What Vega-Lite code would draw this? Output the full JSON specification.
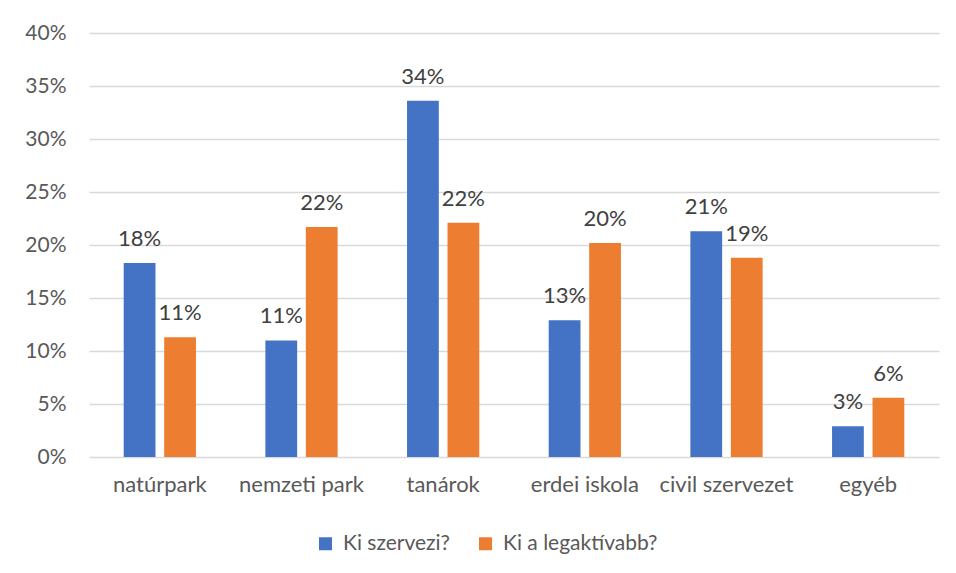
{
  "$schema": "https://vega.github.io/schema/vega-lite/v6.json",
  "width": 850,
  "height": 424,
  "autosize": {"type": "none"},
  "padding": {"left": 89, "top": 33, "right": 17, "bottom": 116},
  "background": "white",
  "config": {
    "font": "Lato",
    "view": {"stroke": null}
  },
  "data": {
    "values": [
      {"cat": "natúrpark", "series": "Ki szervezi?", "value": 0.183},
      {"cat": "natúrpark", "series": "Ki a legaktívabb?", "value": 0.113},
      {"cat": "nemzeti park", "series": "Ki szervezi?", "value": 0.110},
      {"cat": "nemzeti park", "series": "Ki a legaktívabb?", "value": 0.217},
      {"cat": "tanárok", "series": "Ki szervezi?", "value": 0.336},
      {"cat": "tanárok", "series": "Ki a legaktívabb?", "value": 0.221},
      {"cat": "erdei iskola", "series": "Ki szervezi?", "value": 0.129},
      {"cat": "erdei iskola", "series": "Ki a legaktívabb?", "value": 0.202},
      {"cat": "civil szervezet", "series": "Ki szervezi?", "value": 0.213},
      {"cat": "civil szervezet", "series": "Ki a legaktívabb?", "value": 0.188},
      {"cat": "egyéb", "series": "Ki szervezi?", "value": 0.029},
      {"cat": "egyéb", "series": "Ki a legaktívabb?", "value": 0.056}
    ]
  },
  "encoding": {
    "x": {
      "field": "cat",
      "type": "nominal",
      "sort": ["natúrpark", "nemzeti park", "tanárok", "erdei iskola", "civil szervezet", "egyéb"],
      "scale": {"paddingInner": 0.49, "paddingOuter": 0.245},
      "axis": {
        "title": null,
        "labelAngle": 0,
        "domain": false,
        "ticks": false,
        "labelFontSize": 22,
        "labelColor": "#595959",
        "labelPadding": 17
      }
    },
    "xOffset": {
      "field": "series",
      "type": "nominal",
      "sort": ["Ki szervezi?", "Ki a legaktívabb?"],
      "scale": {"paddingInner": 0.215, "paddingOuter": 0}
    },
    "y": {
      "field": "value",
      "type": "quantitative",
      "scale": {"domain": [0, 0.4]},
      "axis": {
        "title": null,
        "values": [0, 0.05, 0.1, 0.15, 0.2, 0.25, 0.3, 0.35, 0.4],
        "format": ".0%",
        "domain": false,
        "ticks": false,
        "gridColor": "#D9D9D9",
        "gridWidth": 1.3,
        "labelFontSize": 21,
        "labelColor": "#595959",
        "labelPadding": 23
      }
    }
  },
  "layer": [
    {
      "mark": {"type": "bar"},
      "encoding": {
        "color": {
          "field": "series",
          "type": "nominal",
          "scale": {"domain": ["Ki szervezi?", "Ki a legaktívabb?"], "range": ["#4472C4", "#ED7D31"]},
          "legend": {
            "title": null,
            "orient": "none",
            "legendX": 226,
            "legendY": 500,
            "direction": "horizontal",
            "symbolType": "square",
            "symbolSize": 169,
            "symbolStrokeWidth": 0,
            "labelFontSize": 21,
            "labelColor": "#595959",
            "labelOffset": 7,
            "labelLimit": 400,
            "columnPadding": 24
          }
        }
      }
    },
    {
      "mark": {"type": "text", "baseline": "alphabetic", "dy": -17, "fontSize": 22, "color": "#404040"},
      "encoding": {
        "text": {"field": "value", "type": "quantitative", "format": ".0%"}
      }
    }
  ]
}
